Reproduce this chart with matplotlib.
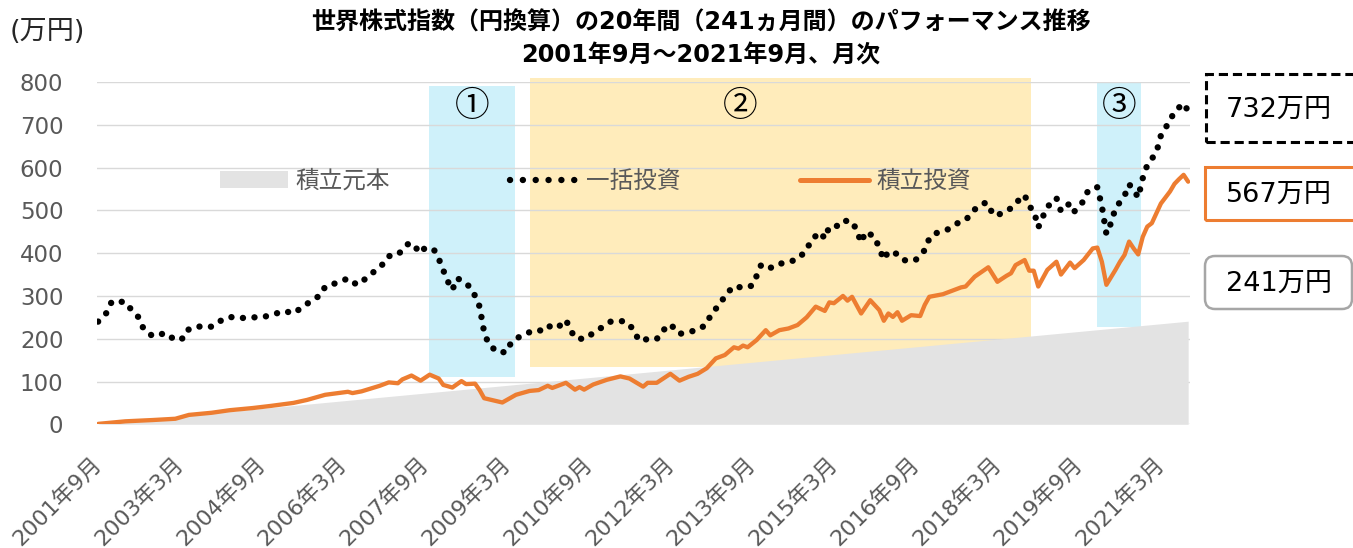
import matplotlib.pyplot as plt
import numpy as np
from matplotlib.patches import Rectangle, FancyBboxPatch, Patch
from matplotlib.lines import Line2D

plt.rcParams['font.family'] = ['DejaVu Sans', 'Noto Sans CJK JP']

# months counted from 2001年9月 (0) to 2021年9月 (240)
tick_months = [0, 18, 36, 54, 72, 90, 108, 126, 144, 162, 180, 198, 216, 234]
tick_labels = ['2001年9月', '2003年3月', '2004年9月', '2006年3月', '2007年9月',
               '2009年3月', '2010年9月', '2012年3月', '2013年9月', '2015年3月',
               '2016年9月', '2018年3月', '2019年9月', '2021年3月']

# 積立元本 (万円)
principal_month = [0, 240]
principal_value = [1, 241]

# 一括投資 (万円)
lump_month = [0, 2, 3, 6, 7, 9, 10, 12, 13, 15, 17, 19, 20, 23, 25, 27, 29, 31, 34, 36,
              38, 41, 43, 45, 47, 49, 50, 53, 55, 57, 59, 61, 63, 64, 66, 68, 69, 71, 72, 74,
              75, 76, 77, 78, 79, 80, 82, 83, 84, 85, 86, 88, 90, 91, 93, 96, 98, 99, 101, 103,
              104, 105, 107, 109, 111, 113, 116, 118, 119, 121, 123, 124, 126, 128, 129, 132, 134, 135, 137, 138,
              140, 142, 144, 145, 146, 148, 149, 152, 154, 156, 157, 159, 160, 161, 163, 164, 166, 167, 168, 169,
              171, 172, 173, 174, 176, 177, 178, 180, 182, 183, 184, 187, 189, 191, 193, 195, 196, 197, 199, 201,
              203, 204, 205, 206, 207, 208, 209, 211, 212, 214, 215, 217, 218, 220, 221, 222, 223, 224, 226, 227,
              228, 229, 230, 231, 233, 234, 236, 237, 239, 240]
lump_value = [240, 262, 287, 286, 272, 249, 223, 206, 209, 213, 196, 202, 223, 230, 228, 242, 251, 248, 250, 250,
              255, 265, 259, 274, 289, 302, 322, 332, 341, 326, 341, 359, 377, 393, 396, 420, 424, 400, 413, 407,
              387, 360, 334, 314, 341, 337, 320, 300, 275, 215, 187, 168, 169, 193, 206, 220, 219, 230, 224, 244,
              221, 202, 199, 213, 227, 241, 241, 221, 196, 199, 199, 216, 234, 211, 214, 220, 234, 259, 281, 301,
              323, 319, 324, 347, 373, 365, 373, 379, 386, 407, 431, 449, 434, 462, 464, 476, 474, 454, 425, 450,
              438, 411, 385, 404, 398, 386, 382, 384, 407, 434, 445, 455, 469, 477, 502, 517, 516, 489, 492, 505,
              527, 536, 509, 500, 460, 485, 508, 529, 498, 517, 498, 522, 547, 554, 510, 445, 470, 505, 534, 561,
              548, 530, 575, 606, 635, 675, 710, 731, 750, 732]

# 積立投資 (万円)
acc_month = [0, 6, 12, 17, 20, 25, 29, 34, 38, 43, 46, 50, 55, 56, 58, 62, 64, 66, 67, 69,
             71, 73, 75, 76, 78, 80, 81, 83, 84, 85, 87, 89, 90, 92, 95, 97, 99, 100, 103, 105,
             106, 107, 109, 112, 115, 117, 120, 121, 123, 126, 128, 130, 132, 134, 136, 138, 140, 141, 142, 143,
             145, 147, 148, 150, 152, 154, 156, 158, 160, 161, 162, 164, 165, 166, 168, 170, 172, 173, 174, 175,
             176, 177, 179, 181, 182, 183, 186, 190, 191, 193, 196, 198, 200, 201, 202, 204, 205, 206, 207, 209,
             211, 212, 214, 215, 217, 219, 220, 221, 222, 224, 225, 226, 227, 228, 229, 230, 231, 232, 234, 236,
             237, 238, 239, 240]
acc_value = [1, 7, 10, 13, 22, 27, 33, 38, 43, 50, 57, 69, 76, 73, 77, 90, 98, 96, 105, 114,
             102, 116, 107, 92, 86, 101, 94, 95, 80, 61, 56, 51, 57, 69, 78, 80, 90, 85, 97, 81,
             87, 81, 93, 104, 112, 107, 88, 97, 97, 118, 102, 111, 118, 131, 154, 162, 180, 177, 184, 180,
             197, 220, 208, 220, 224, 232, 250, 275, 265, 285, 283, 300, 289, 298, 259, 290, 267, 242, 259, 251,
             262, 242, 255, 253, 279, 298, 304, 320, 322, 345, 367, 333, 347, 353, 372, 384, 359, 359, 322, 361,
             380, 350, 378, 365, 384, 411, 413, 380, 326, 361, 380, 396, 427, 411, 397, 438, 462, 470, 516, 544,
             562, 573, 583, 567]

# highlighted periods: start, end month and value range of each box
period_labels = ['①', '②', '③']
period_start = [72.9, 95.2, 220.0]
period_end = [91.8, 205.5, 229.7]
period_low = [111, 135, 228]
period_high = [791, 809, 800]
period_label_x = [82.4, 141.4, 224.8]
period_colors = ['#CFF1FA', '#FFECBB', '#CFF1FA']

# end values shown on the right
end_texts = ['732万円', '567万円', '241万円']

orange = '#ED7D31'
grey_area = '#E3E3E3'
dotted = (0, (0.01, 1.8))

fig = plt.figure(figsize=(13.53, 5.48), dpi=100)
ax = fig.add_axes([0.0715, 0.2257, 0.808, 0.6247])

for x0, x1, lo, hi, c in zip(period_start, period_end, period_low, period_high, period_colors):
    ax.add_patch(Rectangle((x0, lo), x1 - x0, hi - lo, facecolor=c, edgecolor='none',
                           zorder=0.2, clip_on=False))
for lab, xl in zip(period_labels, period_label_x):
    ax.text(xl, 742, lab, ha='center', va='center', fontsize=25,
            family=['Noto Sans CJK JP'], color='black', zorder=5)

ax.fill_between(principal_month, 0, principal_value, color=grey_area, lw=0, zorder=1)
ax.plot(acc_month, acc_value, color=orange, lw=3.1, solid_joinstyle='round',
        solid_capstyle='round', zorder=3)
ax.plot(lump_month, lump_value, color='black', lw=4.6, ls=dotted,
        dash_capstyle='round', zorder=4)

ax.set_xlim(-0.3, 240.4)
ax.set_ylim(0, 800)
ax.set_yticks(np.arange(0, 801, 100))
ax.set_xticks(tick_months)
ax.set_xticklabels(tick_labels)
plt.setp(ax.get_xticklabels(), rotation=45, ha='right', va='center', rotation_mode='anchor')
ax.tick_params(axis='x', length=0, pad=26, labelsize=16, labelcolor='#595959')
ax.tick_params(axis='y', length=0, pad=24, labelsize=16.5, labelcolor='#595959')
ax.set_axisbelow(True)
ax.yaxis.grid(True, color='#D9D9D9', lw=1.0)
for s in ax.spines.values():
    s.set_visible(False)

handles = [Patch(facecolor=grey_area, edgecolor='none'),
           Line2D([], [], color='black', lw=4.6, ls=(0, (0.01, 2.0)), dash_capstyle='round'),
           Line2D([], [], color=orange, lw=3.6, solid_capstyle='round')]
fig.legend(handles, ['積立元本', '一括投資', '積立投資'], ncol=3, frameon=False,
           loc='center', bbox_to_anchor=(595 / 1353, 1 - 181 / 548),
           fontsize=17, labelcolor='#595959', handlelength=2.9, handletextpad=0.3,
           columnspacing=5.1, borderpad=0, borderaxespad=0)

fig.text(0.518, 1 - 23 / 548, '世界株式指数（円換算）の20年間（241ヵ月間）のパフォーマンス推移',
         ha='center', va='center', fontsize=17.3, weight='bold')
fig.text(0.518, 1 - 56 / 548, '2001年9月～2021年9月、月次',
         ha='center', va='center', fontsize=17.3, weight='bold')
fig.text(10 / 1353, 1 - 32 / 548, '(万円)', ha='left', va='center', fontsize=19.5, color='#262626')

# boxes on the right (inches from bottom-left)
tr = fig.dpi_scale_trans
fig.patches.append(Rectangle((12.06, 5.48 - 1.42), 1.6, 0.68, transform=tr, fill=False,
                             edgecolor='black', lw=2.2, ls=(0, (3, 1.6))))
fig.patches.append(Rectangle((12.05, 5.48 - 2.20), 1.6, 0.53, transform=tr, fill=False,
                             edgecolor=orange, lw=2.2))
fig.patches.append(FancyBboxPatch((12.05, 5.48 - 3.09), 1.47, 0.53, transform=tr, fill=False,
                                  edgecolor='#A6A6A6', lw=1.8,
                                  boxstyle='round,pad=0,rounding_size=0.1'))
for t, y in zip(end_texts, [1.10, 1.95, 2.84]):
    fig.text(12.79, 5.48 - y, t, transform=tr, ha='center', va='center',
             fontsize=19.5, color='black')

fig.savefig('out.png', dpi=100)
